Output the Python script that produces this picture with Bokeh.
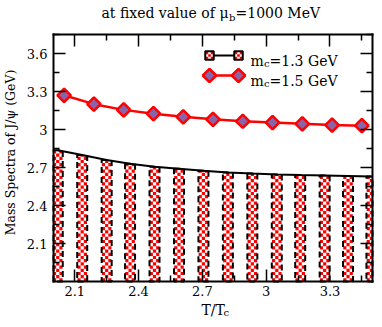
import numpy as np
from bokeh.plotting import figure
from bokeh.models import (Range1d, FixedTicker, LinearAxis, NumeralTickFormatter,
                          CustomJSTickFormatter, Label)
from bokeh.embed import file_html
from bokeh.resources import INLINE

# ---------------- data ----------------
mc13_x = [2.02, 2.135, 2.25, 2.36, 2.475, 2.59, 2.705, 2.82, 2.935, 3.05, 3.16, 3.275, 3.385, 3.495]
mc13_y = [2.836, 2.798, 2.760, 2.729, 2.706, 2.691, 2.675, 2.660, 2.652, 2.645, 2.641, 2.637, 2.633, 2.629]
mc15_x = [2.05, 2.19, 2.33, 2.47, 2.61, 2.75, 2.89, 3.03, 3.17, 3.31, 3.45]
mc15_y = [3.27, 3.20, 3.155, 3.125, 3.10, 3.08, 3.065, 3.055, 3.045, 3.035, 3.03]
x_major = [2.1, 2.4, 2.7, 3.0, 3.3]
x_minor = [2.25, 2.55, 2.85, 3.15, 3.45]
y_major = [2.1, 2.4, 2.7, 3.0, 3.3, 3.6]
y_minor = [1.95, 2.25, 2.55, 2.85, 3.15, 3.45, 3.75]
x_lim = (2.0, 3.5)
y_lim = (1.8, 3.75)

FONT = "DejaVu Serif"

# ---------------- layout (canvas px) ----------------
W, H = 374, 319                   # whole canvas is the Bokeh frame
BL, BR, BT, BB = 53, 372, 34, 281  # the plotting box inside it
SX = (BR - BL) / (x_lim[1] - x_lim[0])
SY = (BB - BT) / (y_lim[1] - y_lim[0])
def dx(px): return x_lim[0] + (px - BL) / SX
def dy(py): return y_lim[1] - (py - BT) / SY

p = figure(width=W, height=H, x_range=Range1d(dx(0), dx(W)), y_range=Range1d(dy(H), dy(0)),
           output_backend="svg", toolbar_location=None, min_border=0,
           background_fill_color="white", border_fill_color="white")
p.title.visible = False
p.grid.visible = False
p.outline_line_color = None

def style_axis(ax, ticks, minor, loc, bounds, labels=True):
    ax.fixed_location = loc
    ax.bounds = bounds
    ax.ticker = FixedTicker(ticks=ticks, minor_ticks=minor)
    ax.major_tick_in = 12
    ax.major_tick_out = 0
    ax.minor_tick_in = 6
    ax.minor_tick_out = 0
    ax.axis_line_width = 2
    ax.axis_line_cap = "square"
    ax.major_tick_line_width = 1.5
    ax.minor_tick_line_width = 1.5
    ax.major_label_text_font = FONT
    ax.major_label_text_color = "black"
    if labels:
        ax.major_label_text_font_size = "13px"
        ax.major_label_standoff = 4
        ax.formatter = NumeralTickFormatter(format="0.[0]")
    else:
        ax.major_label_text_font_size = "0px"
        ax.major_label_standoff = 0
        ax.formatter = CustomJSTickFormatter(code="return ''")

style_axis(p.xaxis[0], x_major, x_minor, y_lim[0], x_lim)
style_axis(p.yaxis[0], y_major, y_minor, x_lim[0], y_lim)
p.yaxis[0].major_label_standoff = 6
top = LinearAxis()
right = LinearAxis()
style_axis(top, x_major, x_minor, y_lim[1], x_lim, labels=False)
style_axis(right, y_major, y_minor, x_lim[1], y_lim, labels=False)
p.add_layout(top, "above")
p.add_layout(right, "right")

# ---------------- m_c = 1.3 GeV series: checker columns ----------------
COL_W = 10      # px
CELL = 3.2      # px
def clipx(a, b):
    return max(a, x_lim[0]), min(b, x_lim[1])

col_l, col_r = [], []
for xi in mc13_x:
    l, r = clipx(xi - COL_W / 2 / SX, xi + COL_W / 2 / SX)
    col_l.append(l)
    col_r.append(r)
p.quad(left=col_l, right=col_r, top=mc13_y, bottom=y_lim[0],
       fill_color="white", line_color=None)
ql, qr, qb, qt = [], [], [], []
for xi, yi in zip(mc13_x, mc13_y):
    nrows = int(np.ceil((yi - y_lim[0]) * SY / CELL))
    for r in range(nrows):
        for c in range(3):
            if (r + c) % 2 == 0:
                l, rr = clipx(xi + (c - 1.5) * CELL / SX, xi + (c - 0.5) * CELL / SX)
                if rr <= l:
                    continue
                ql.append(l)
                qr.append(rr)
                qb.append(y_lim[0] + r * CELL / SY)
                qt.append(min(y_lim[0] + (r + 1) * CELL / SY, yi))
p.quad(left=ql, right=qr, bottom=qb, top=qt, fill_color="red", line_color=None)
p.quad(left=col_l, right=col_r, top=mc13_y, bottom=y_lim[0],
       fill_color=None, line_color="black", line_width=2, line_dash="6 4")
p.line(mc13_x, mc13_y, line_color="black", line_width=2)

# ---------------- m_c = 1.5 GeV series ----------------
p.line(mc15_x, mc15_y, line_color="red", line_width=2.5)
p.scatter(mc15_x, mc15_y, marker="square", angle=np.pi / 4, size=9.5,
          fill_color="#8a64a8", line_color="red", line_width=2.5)

# ---------------- legend (manual) ----------------
ly1, ly2 = 55, 75
p.line([dx(207), dx(240)], [dy(ly1), dy(ly1)], line_color="black", line_width=2)
lcx, lcy = [], []
for px0 in (209, 238):
    for r in range(3):
        for c in range(3):
            if (r + c) % 2 == 0:
                lcx.append(dx(px0 + (c - 1) * 2.7))
                lcy.append(dy(ly1 + (r - 1) * 2.7))
p.rect([dx(209), dx(238)], [dy(ly1)] * 2, width=8.5 / SX, height=8.5 / SY,
       fill_color="white", line_color=None)
p.rect(lcx, lcy, width=2.7 / SX, height=2.7 / SY, fill_color="red", line_color=None)
p.rect([dx(209), dx(238)], [dy(ly1)] * 2, width=8.5 / SX, height=8.5 / SY,
       fill_color=None, line_color="black", line_width=2)
p.line([dx(209), dx(238)], [dy(ly2), dy(ly2)], line_color="red", line_width=2.5)
p.scatter([dx(209), dx(238)], [dy(ly2), dy(ly2)], marker="square", angle=np.pi / 4,
          size=9.5, fill_color="#8a64a8", line_color="red", line_width=2.5)

def lab(px, py, text, size, **kw):
    p.add_layout(Label(x=dx(px), y=dy(py), text=text, text_font=FONT,
                       text_font_size=size, text_color="black",
                       text_baseline=kw.pop("baseline", "alphabetic"), **kw))

for ly, txt in ((ly1, "=1.3 GeV"), (ly2, "=1.5 GeV")):
    lab(250, ly + 5, "m", "14px")
    lab(263.5, ly + 8, "c", "10px")
    lab(269, ly + 5, txt, "14px")

# ---------------- title and axis titles ----------------
lab(101, 12.5, "at fixed value of \u03bc", "14px")
lab(228.5, 16.5, "b", "10px")
lab(235, 12.5, "=1000 MeV", "14px")
lab(201, 309, "T/T", "14px")
lab(223, 312, "c", "10px")
lab(10, 152, "Mass Spectra of J/\u03c8 (GeV)", "12.5px",
    baseline="middle", text_align="center", angle=np.pi / 2)

open("out.html", "w").write(file_html(p, INLINE))
